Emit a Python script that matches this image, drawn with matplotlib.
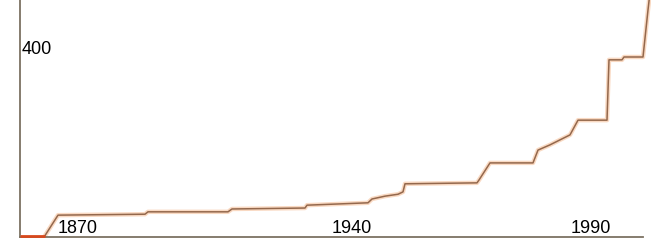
import matplotlib.pyplot as plt

# early segment (drawn in red) and main series, x in axis units (~4 px each)
early_x = [0, 6.25]
early_y = [3, 3]

series_x = [6.25, 9.5, 31.25, 32, 52, 53, 71.25, 71.75, 87, 88, 91.25, 94.5,
            95.75, 96.25, 114.25, 114.75, 117.5, 128.25, 129.5, 132.5, 137.5,
            139.5, 146.75, 147.25, 150.5, 151, 155.75, 157, 157.5]
series_y = [3, 46, 48, 53, 53, 59, 61, 67, 72, 80, 86, 90, 95, 112, 114, 120,
            156, 156, 183, 194, 215, 246, 246, 373, 373, 379, 379, 478, 515]

x_ticks = [14.5, 83, 142.75]
x_labels = ["1870", "1940", "1990"]
y_ticks = [400]
y_labels = ["400"]


def main():
    plt.rcParams["font.family"] = ["Liberation Sans", "DejaVu Sans"]
    fig = plt.figure(figsize=(6.51, 2.52), dpi=100)
    ax = fig.add_axes([20 / 651, 15 / 252, 631 / 651, 237 / 252])

    ax.plot(early_x, early_y, color="#d8481c", lw=2.0, solid_capstyle="butt",
            zorder=4, clip_on=False)
    ax.plot(series_x, series_y, color="#f6c09a", lw=3.2, alpha=0.6, zorder=2)
    ax.plot(series_x, series_y, color="#94684c", lw=1.1, zorder=3)

    ax.set_xlim(0, 157.75)
    ax.set_ylim(0, 499)

    for side in ("top", "right"):
        ax.spines[side].set_visible(False)
    for side in ("left", "bottom"):
        ax.spines[side].set_color("#7c7262")
        ax.spines[side].set_linewidth(1.3)
    ax.spines["bottom"].set_bounds(0, 155.75)

    ax.set_xticks(x_ticks, x_labels)
    ax.set_yticks(y_ticks, y_labels)
    ax.tick_params(axis="x", length=0, pad=-12, labelsize=13)
    ax.tick_params(axis="y", length=0, pad=-1.5, labelsize=13)
    for lab in ax.get_yticklabels():
        lab.set_ha("left")

    fig.savefig("out.png", dpi=100)


if __name__ == "__main__":
    main()
